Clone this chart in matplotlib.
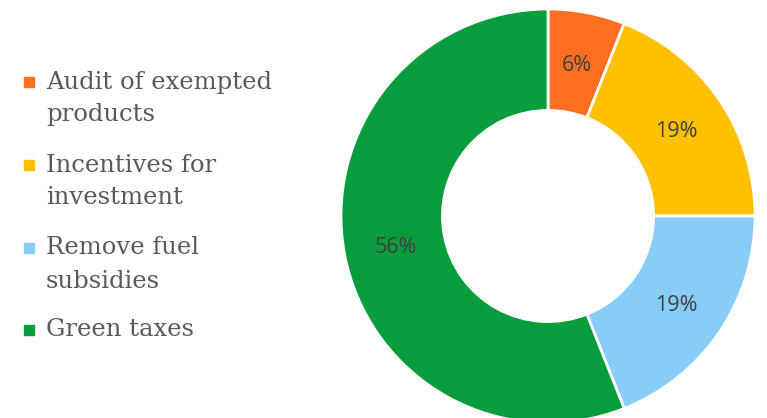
import matplotlib.pyplot as plt
from matplotlib.patches import Rectangle

labels = ["Audit of exempted\nproducts", "Incentives for\ninvestment",
          "Remove fuel\nsubsidies", "Green taxes"]
values = [6, 19, 19, 56]
colors = ["#FF6F1F", "#FFC000", "#87CDF7", "#079C3C"]

W, H = 767, 418
fig = plt.figure(figsize=(W / 100, H / 100), dpi=100)

# donut: centre (548, 216) px from top-left, outer radius 207 px
cx, cy, r = 548, 216, 207
ax = fig.add_axes([(cx - r) / W, (H - cy - r) / H, 2 * r / W, 2 * r / H])
wedges, texts, autotexts = ax.pie(
    values, colors=colors, startangle=90, counterclock=False,
    autopct="%d%%", pctdistance=0.75,
    wedgeprops=dict(width=0.49, edgecolor="white", linewidth=2),
    textprops=dict(color="#404040", fontsize=15.5, family="Open Sans"))
for t in autotexts:
    t.set_va("center_baseline")
ax.set_xlim(-1, 1)
ax.set_ylim(-1, 1)
ax.axis("off")

# legend drawn by hand so the marker sits next to the first line
tops = [82, 165, 248, 330]
line_gap = 33
for lab, col, y in zip(labels, colors, tops):
    fig.patches.append(Rectangle((24 / W, 1 - (y + 5) / H), 10 / W, 10 / H,
                                 color=col, transform=fig.transFigure))
    for k, line in enumerate(lab.split("\n")):
        fig.text(46 / W, 1 - (y + k * line_gap) / H, line, va="center",
                 ha="left", fontsize=17.5, family="DejaVu Serif", color="#595959")

fig.savefig("out.png", dpi=100)
